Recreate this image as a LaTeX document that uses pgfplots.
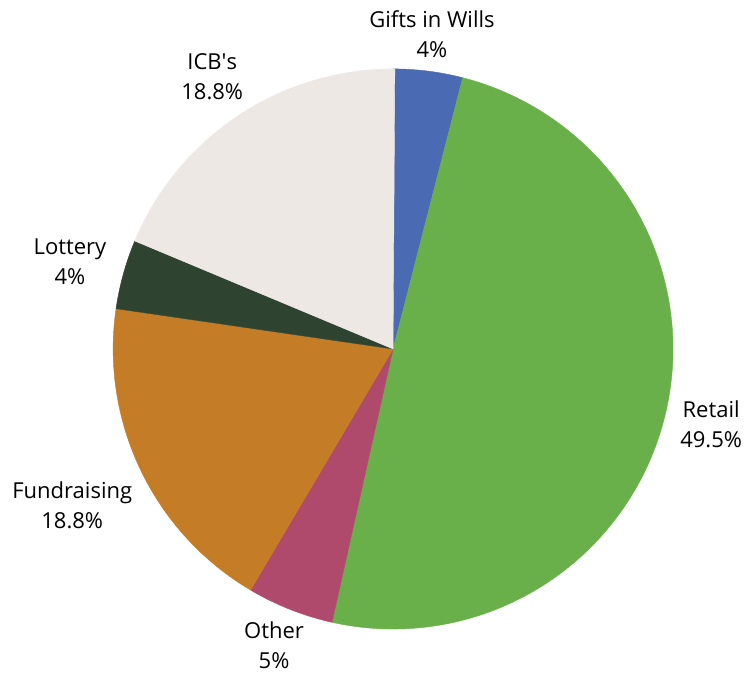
\documentclass[border=0pt]{standalone}
\usepackage{fontspec}
\setmainfont{Open Sans}
\usepackage{pgfplots}
\pgfplotsset{compat=1.18}
\definecolor{cgifts}{HTML}{4A6BB3}
\definecolor{cretail}{HTML}{6AB04A}
\definecolor{cother}{HTML}{B04A6C}
\definecolor{cfund}{HTML}{C47C26}
\definecolor{clottery}{HTML}{2E4431}
\definecolor{cicb}{HTML}{EDE8E4}
% outline of a wedge from angle #2 to angle #3 (degrees), stored as \wedge#1
\newcommand\buildwedge[3]{%
  \xdef\coords{(0,0)}%
  \pgfmathtruncatemacro\nn{ceil(abs((#3)-(#2)))+1}%
  \foreach \k in {0,...,\nn}{%
    \pgfmathsetmacro\frac{\k/\nn}%
    \pgfmathsetmacro\wang{(#2)+\frac*((#3)-(#2))}%
    \pgfmathsetmacro\px{cos(\wang)}%
    \pgfmathsetmacro\py{sin(\wang)}%
    \xdef\coords{\coords (\px,\py)}%
  }%
  \expandafter\xdef\csname wedge#1\endcsname{\coords (0,0)}%
}
\begin{document}
% shares in percent, clockwise from the top
\xdef\cum{0}%
\foreach \nm/\v in {A/4,B/49.5,C/5,D/18.8,E/4,F/18.8}{%
  \pgfmathsetmacro\sa{90-3.6*\cum}%
  \pgfmathsetmacro\newcum{\cum+\v}%
  \pgfmathsetmacro\ea{90-3.6*\newcum}%
  \buildwedge{\nm}{\sa}{\ea}%
  \xdef\cum{\newcum}%
}%
\begin{tikzpicture}
\begin{axis}[width=372.5pt,height=337.5pt,scale only axis,hide axis,
  xmin=-1.404,xmax=1.257,ymin=-1.164,ymax=1.246,clip=false]
\foreach \nm/\c in {A/cgifts,B/cretail,C/cother,D/cfund,E/clottery,F/cicb}{%
  \edef\temp{\noexpand\addplot[fill=\c,draw=\c,line width=0.2pt] coordinates {\csname wedge\nm\endcsname};}\temp
}
\begin{scope}[every node/.style={align=center,inner sep=0pt,font=\fontsize{11}{15}\selectfont}]
\node at (axis cs:0.139,1.125) {Gifts in Wills\\4\%};
\node at (axis cs:-0.646,0.973) {ICB\textquotesingle s\\18.8\%};
\node at (axis cs:-1.154,0.3125) {Lottery\\4\%};
\node at (axis cs:-1.146,-0.557) {Fundraising\\18.8\%};
\node at (axis cs:-0.425,-1.058) {Other\\5\%};
\node at (axis cs:1.136,-0.270) {Retail\\49.5\%};
\end{scope}
\end{axis}
\pgfresetboundingbox
\path[use as bounding box] (current axis.south west) rectangle (current axis.north east);
\end{tikzpicture}
\end{document}
